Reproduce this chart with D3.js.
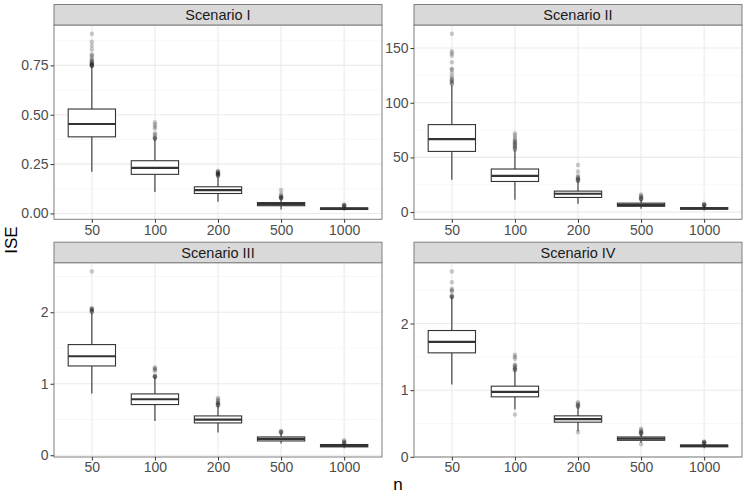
<!DOCTYPE html>
<html>
<head>
<meta charset="utf-8">
<script src="https://cdn.jsdelivr.net/npm/d3@7"></script>
<style>
body { margin:0; background:#fff; }
text { font-family: "Liberation Sans", Arial, sans-serif; }
</style>
</head>
<body>
<svg id="chart"></svg>
<script>
// categories (sample size n)
var categories = ["50","100","200","500","1000"];
var scenarios = ["Scenario I","Scenario II","Scenario III","Scenario IV"];

// box stats per n: [lower whisker, Q1, median, Q3, upper whisker]
var statsI = [[0.211,0.388,0.453,0.529,0.743],[0.109,0.198,0.231,0.267,0.375],[0.059,0.101,0.118,0.135,0.186],[0.02,0.039,0.047,0.055,0.075],[0.015,0.02,0.024,0.028,0.035]];
var statsII = [[29.6,55.5,66.8,80,116],[11.3,28,33.2,39.4,56.5],[7.6,13.4,16.8,19.2,28],[3,5.3,6.7,8.2,11],[1.5,2.6,3.3,4.1,5.5]];
var statsIII = [[0.863,1.249,1.385,1.548,1.99],[0.48,0.709,0.783,0.858,1.09],[0.317,0.452,0.499,0.55,0.69],[0.163,0.2,0.228,0.256,0.31],[0.099,0.117,0.13,0.15,0.165]];
var statsIV = [[1.085,1.56,1.724,1.895,2.39],[0.71,0.9,0.975,1.06,1.29],[0.385,0.52,0.565,0.615,0.745],[0.21,0.248,0.273,0.298,0.34],[0.13,0.15,0.163,0.178,0.2]];

// outliers per n
var outliersI = [[0.746,0.748,0.75,0.752,0.755,0.758,0.76,0.765,0.77,0.775,0.78,0.79,0.8,0.805,0.83,0.85,0.87,0.91],[0.378,0.38,0.383,0.387,0.4,0.405,0.43,0.44,0.45,0.462],[0.19,0.192,0.195,0.197,0.2,0.203,0.205,0.208,0.212,0.215],[0.076,0.078,0.08,0.082,0.085,0.09,0.1,0.118],[0.036,0.038,0.04,0.042,0.045]];
var outliersII = [[117,118,119,120,121,122,124,127,130,131,137,143,145,147,163],[57,58,59,60,61,62,63,64,65,66,68,70,72],[28.5,29,29.5,30,31,32,33,37,43],[11.5,12,12.5,13,14,15,16],[5.8,6.2,6.6,7,7.5]];
var outliersIII = [[2.0,2.01,2.02,2.03,2.04,2.05,2.06,2.57],[1.095,1.1,1.105,1.11,1.18,1.2,1.21,1.23],[0.695,0.7,0.71,0.72,0.73,0.74,0.76,0.78,0.8],[0.315,0.32,0.33,0.34],[0.17,0.175,0.18,0.19,0.21]];
var outliersIV = [[2.395,2.4,2.41,2.42,2.48,2.5,2.52,2.62,2.78],[0.635,1.3,1.31,1.32,1.33,1.35,1.37,1.38,1.47,1.5,1.53],[0.37,0.75,0.76,0.77,0.78,0.8,0.82],[0.19,0.345,0.35,0.36,0.37,0.38,0.4,0.42],[0.205,0.21,0.215,0.22,0.23]];

// y tick labels per panel
var ticksI = [0,0.25,0.5,0.75];
var ticksII = [0,50,100,150];
var ticksIII = [0,1,2];
var ticksIV = [0,1,2];

var screen = {width:747,height:498}
var svg = d3.select("#chart").attr("width",screen.width).attr("height",screen.height)

// panel frames (plot area, strip sits above)
var stripH = 20.5
var frames = [
    {x:54, y:25, w:328, h:194.3},
    {x:414, y:25, w:328, h:194.3},
    {x:54, y:262.7, w:328, h:194.3},
    {x:414, y:262.7, w:328, h:194.3}
]
var panels = [
    {stats:statsI, outliers:outliersI, ticks:ticksI, fmt:d3.format(".2f")},
    {stats:statsII, outliers:outliersII, ticks:ticksII, fmt:d3.format("d")},
    {stats:statsIII, outliers:outliersIII, ticks:ticksIII, fmt:d3.format("d")},
    {stats:statsIV, outliers:outliersIV, ticks:ticksIV, fmt:d3.format("d")}
]

var drawPanel = function(p, f, title)
{
    var g = svg.append("g").attr("transform","translate("+f.x+","+f.y+")")

    var xScale = d3.scalePoint().domain(categories).range([0,f.w]).padding(0.6)

    var all = []
    p.stats.forEach(function(s){ all.push(s[0],s[4]) })
    p.outliers.forEach(function(o){ all = all.concat(o) })
    var lo = d3.min(all), hi = d3.max(all), pad = (hi-lo)*0.05
    var yScale = d3.scaleLinear().domain([lo-pad,hi+pad]).range([f.h,0])

    // minor grid
    var step = p.ticks[1]-p.ticks[0]
    var minor = []
    for (var i=0;i<p.ticks.length+1;i++) {
        var m = p.ticks[0] + step*(i-0.5)
        if (m>yScale.domain()[0] && m<yScale.domain()[1]) minor.push(m)
    }
    g.selectAll(".minor").data(minor).enter().append("line")
        .attr("x1",0).attr("x2",f.w)
        .attr("y1",function(d){return yScale(d)}).attr("y2",function(d){return yScale(d)})
        .attr("stroke","#f3f3f3").attr("stroke-width",0.6)
    g.selectAll(".majory").data(p.ticks).enter().append("line")
        .attr("x1",0).attr("x2",f.w)
        .attr("y1",function(d){return yScale(d)}).attr("y2",function(d){return yScale(d)})
        .attr("stroke","#ebebeb").attr("stroke-width",1.1)
    g.selectAll(".majorx").data(categories).enter().append("line")
        .attr("y1",0).attr("y2",f.h)
        .attr("x1",function(d){return xScale(d)}).attr("x2",function(d){return xScale(d)})
        .attr("stroke","#ebebeb").attr("stroke-width",1.1)

    var bw = xScale.step()*0.75
    var boxes = g.selectAll(".box").data(p.stats).enter().append("g")
    boxes.append("line")
        .attr("x1",function(d,i){return xScale(categories[i])})
        .attr("x2",function(d,i){return xScale(categories[i])})
        .attr("y1",function(d){return yScale(d[0])}).attr("y2",function(d){return yScale(d[4])})
        .attr("stroke","#333").attr("stroke-width",1.1)
    boxes.append("rect")
        .attr("x",function(d,i){return xScale(categories[i])-bw/2})
        .attr("width",bw)
        .attr("y",function(d){return yScale(d[3])})
        .attr("height",function(d){return yScale(d[1])-yScale(d[3])})
        .attr("fill","#fff").attr("stroke","#333").attr("stroke-width",1.1)
    boxes.append("line")
        .attr("x1",function(d,i){return xScale(categories[i])-bw/2})
        .attr("x2",function(d,i){return xScale(categories[i])+bw/2})
        .attr("y1",function(d){return yScale(d[2])}).attr("y2",function(d){return yScale(d[2])})
        .attr("stroke","#333").attr("stroke-width",2.2)

    p.outliers.forEach(function(o,i){
        g.append("g").selectAll("circle").data(o).enter().append("circle")
            .attr("cx",xScale(categories[i]))
            .attr("cy",function(d){return yScale(d)})
            .attr("r",2.3)
            .attr("fill","#000").attr("fill-opacity",0.2)
    })

    // panel border
    g.append("rect").attr("width",f.w).attr("height",f.h)
        .attr("fill","none").attr("stroke","#7f7f7f").attr("stroke-width",1)

    // strip
    g.append("rect").attr("y",-stripH).attr("width",f.w).attr("height",stripH)
        .attr("fill","#d9d9d9").attr("stroke","#7f7f7f").attr("stroke-width",1)
    g.append("text").text(title)
        .attr("x",f.w/2).attr("y",-stripH/2).attr("dy","0.36em")
        .attr("text-anchor","middle").attr("font-size",14.5).attr("fill","#1a1a1a")

    // axes
    var yAxis = d3.axisLeft(yScale).tickValues(p.ticks).tickFormat(p.fmt).tickSize(3.5).tickPadding(2)
    var ya = g.append("g").call(yAxis)
    var xAxis = d3.axisBottom(xScale).tickSize(3.5).tickPadding(2)
    var xa = g.append("g").attr("transform","translate(0,"+f.h+")").call(xAxis)
    ;[ya,xa].forEach(function(a){
        a.select(".domain").remove()
        a.selectAll(".tick line").attr("stroke","#333")
        a.selectAll(".tick text").attr("font-size",14).attr("fill","#4d4d4d")
            .attr("font-family","Liberation Sans, Arial, sans-serif")
    })
}

panels.forEach(function(p,i){ drawPanel(p, frames[i], scenarios[i]) })

// axis titles
svg.append("text").text("n")
    .attr("x",398).attr("y",490).attr("text-anchor","middle")
    .attr("font-size",17).attr("fill","#000")
svg.append("g").attr("transform","translate(17,240)")
    .append("text").text("ISE")
    .attr("text-anchor","middle").attr("transform","rotate(-90)")
    .attr("font-size",17).attr("fill","#000")
</script>
</body>
</html>
